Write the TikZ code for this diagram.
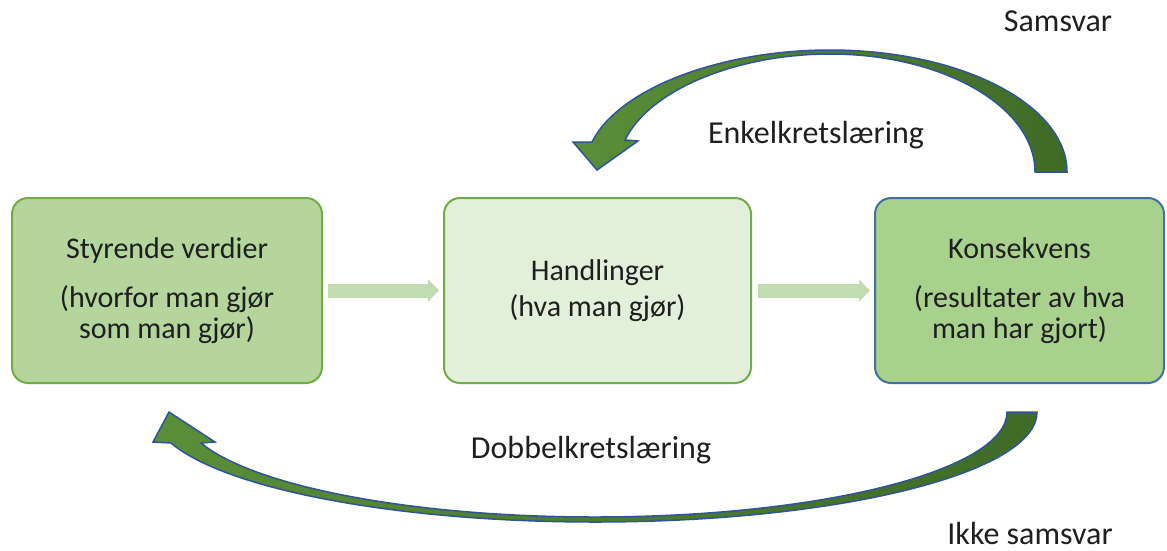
\documentclass[tikz,border=0pt]{standalone}
\usepackage{fontspec}
\setmainfont{Carlito}
\usetikzlibrary{arrows.meta}
\definecolor{boxA}{HTML}{B4D69D}
\definecolor{boxB}{HTML}{E2EFDA}
\definecolor{boxC}{HTML}{A9D18E}
\definecolor{greenline}{HTML}{70AD47}
\definecolor{blueline}{HTML}{41719C}
\definecolor{flatc}{HTML}{C3DBB1}
\definecolor{arrowL}{HTML}{5A8E38}
\definecolor{arrowR}{HTML}{3F6B27}
\definecolor{arrowedge}{HTML}{2F5597}
\definecolor{txt}{HTML}{1F1F1F}
\begin{document}
\begin{tikzpicture}[x=1pt,y=-1pt,
  every node/.style={text=txt, font=\fontsize{32}{33}\selectfont},
  box/.style={rounded corners=16pt, line width=2pt, minimum height=185pt, inner sep=0pt, align=center,
    font=\fontsize{30}{31}\selectfont},
  flatarrow/.style={draw=flatc, line width=14pt, -{Triangle[length=11pt,width=22pt]}},
  bigarrow/.style={draw=arrowedge, line width=1.5pt, left color=arrowL, right color=arrowR},
  lbl/.style={inner sep=0pt, anchor=base}
]
\useasboundingbox (0,0) rectangle (1167,550);

% curved arrows
\path[bigarrow] (1067,172) .. controls (1067,104.6) and (960.9,50) .. (830,50)
 .. controls (721.5,50) and (619,88) .. (592,142)
 -- (573,142) -- (597,170) -- (638,141) -- (625,140)
 .. controls (650,89) and (738.1,54) .. (830,54)
 .. controls (943.2,54) and (1035,106.8) .. (1035,172) -- cycle;

\path[bigarrow] (1037,412) .. controls (1037,472.8) and (839.1,522) .. (595,522)
 .. controls (399,522) and (226.3,489.8) .. (171,443)
 -- (153,442) -- (169,412) -- (215,442) -- (201,443)
 .. controls (254.7,487) and (414.3,517) .. (595,517)
 .. controls (822.5,517) and (1007,470) .. (1007,412) -- cycle;

% boxes
\node[box, draw=greenline, fill=boxA, minimum width=310pt] (sv) at (167,290.5)
  {Styrende verdier\\[18pt](hvorfor man gjør\\som man gjør)};
\node[box, draw=greenline, fill=boxB, minimum width=307pt] (hd) at (597.5,290.5)
  {Handlinger\\[5pt](hva man gjør)};
\node[box, draw=blueline, fill=boxC, minimum width=289pt] (ks) at (1019.5,290.5)
  {Konsekvens\\[18pt](resultater av hva\\man har gjort)};

% straight arrows
\draw[flatarrow] ([xshift=5pt]sv.east) -- ([xshift=-4pt]hd.west);
\draw[flatarrow] ([xshift=6pt]hd.east) -- ([xshift=-4pt]ks.west);

% labels
\node[lbl] (sam) at (1058,31) {Samsvar};
\node[lbl] (enk) at (816,143) {Enkelkretslæring};
\node[lbl] (dob) at (591,458) {Dobbelkretslæring};
\node[lbl] (ikke) at (1030,544) {Ikke samsvar};
\end{tikzpicture}
\end{document}
